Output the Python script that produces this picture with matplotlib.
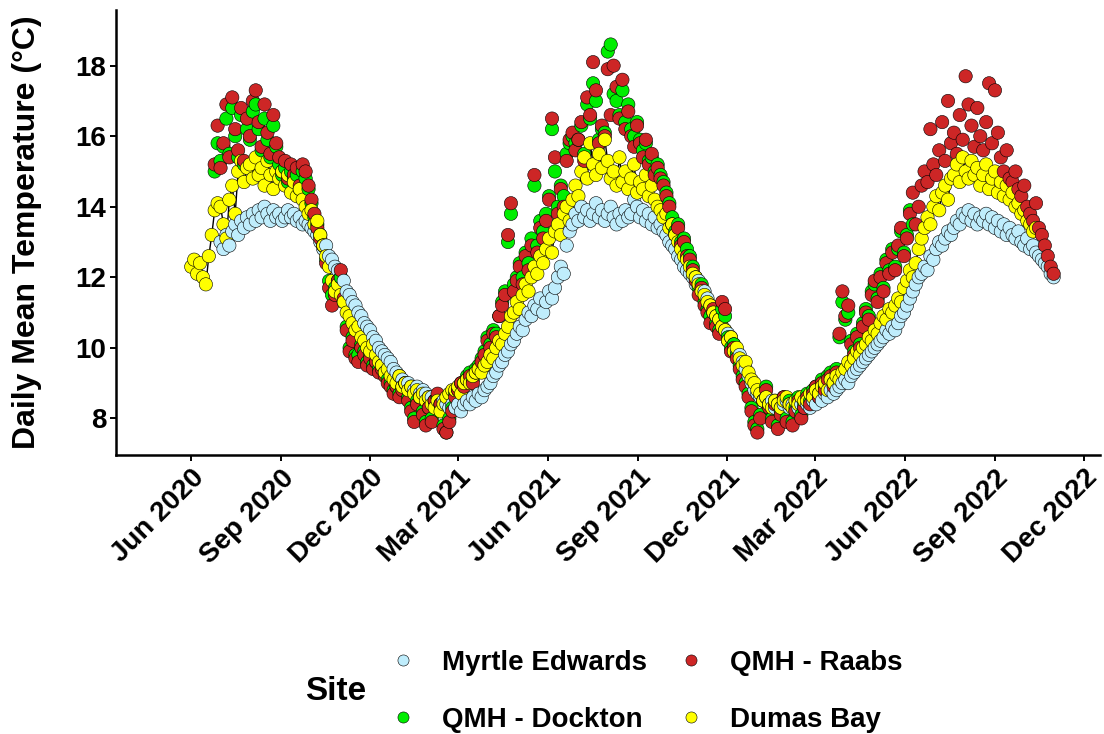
import numpy as np
import pandas as pd
import matplotlib
matplotlib.use("Agg")
import matplotlib.pyplot as plt
import matplotlib.dates as mdates
from matplotlib.lines import Line2D

plt.rcParams["font.family"] = ["Liberation Sans", "DejaVu Sans"]
plt.rcParams["font.weight"] = "bold"

nan = np.nan
START = "2020-06-01"  # sampling grid: one value every 3 days, 10 values per row

myrtle_edwards = [
    nan, nan, nan, nan, nan, nan, nan, nan, nan, nan,
    13.0, 12.8, 13.2, 12.9, 13.3, 13.5, 13.2, 13.6, 13.4, 13.7,
    13.5, 13.8, 13.6, 13.9, 13.7, 14.0, 13.8, 13.6, 13.9, 13.7,
    13.8, 13.6, 13.7, 13.9, 13.7, 13.8, 13.6, 13.7, 13.5, 13.6,
    13.5, 13.4, 13.3, 13.2, 13.0, 12.8, 12.9, 12.6, 12.5, 12.3,
    12.2, 12.0, 11.9, 11.6, 11.5, 11.3, 11.2, 11.0, 10.9, 10.7,
    10.6, 10.5, 10.3, 10.2, 10.0, 9.9, 9.8, 9.7, 9.6, 9.4,
    9.3, 9.2, 9.1, 9.0, 9.0, 8.9, 8.8, 8.9, 8.7, 8.8,
    8.7, 8.6, 8.6, 8.5, 8.6, 8.4, 8.5, 8.4, 8.3, 8.4,
    8.3, 8.4, 8.2, 8.4, 8.5, 8.4, 8.6, 8.5, 8.7, 8.6,
    8.8, 8.9, 9.0, 9.2, 9.3, 9.5, 9.6, 9.8, 9.9, 10.1,
    10.2, 10.4, 10.6, 10.5, 10.8, 11.0, 10.9, 11.2, 11.1, 11.4,
    11.0, 11.3, 11.6, 11.4, 11.7, 12.0, 12.3, 12.1, 12.9, 13.3,
    13.5, 13.8, 13.6, 14.0, 13.7, 13.9, 13.6, 13.8, 14.1, 13.7,
    13.9, 13.6, 13.8, 14.0, 13.7, 13.5, 13.8, 13.6, 13.9, 13.7,
    13.8, 14.2, 14.0, 13.7, 13.9, 13.6, 13.8, 13.5, 13.7, 13.4,
    13.5, 13.3, 13.2, 13.0, 12.9, 12.8, 12.6, 12.5, 12.3, 12.2,
    12.1, 12.0, 11.8, 11.9, 11.7, 11.6, 11.4, 11.2, 11.0, 10.9,
    10.8, 10.6, 10.5, 10.4, 10.3, 10.1, 9.9, 9.8, 9.6, 9.4,
    9.2, 9.0, 8.8, 8.7, 8.6, 8.5, 8.6, 8.4, 8.5, 8.3,
    8.4, 8.3, 8.4, 8.5, 8.3, 8.4, 8.2, 8.3, 8.4, 8.3,
    8.4, 8.3, 8.5, 8.4, 8.6, 8.5, 8.7, 8.6, 8.8, 8.7,
    8.8, 8.9, 9.0, 9.1, 9.0, 9.2, 9.3, 9.4, 9.5, 9.6,
    9.7, 9.8, 9.9, 10.0, 10.1, 10.2, 10.3, 10.5, 10.4, 10.6,
    10.5, 10.7, 10.9, 11.0, 11.2, 11.4, 11.6, 11.8, 12.0, 12.1,
    12.3, 12.2, 12.6, 12.5, 12.8, 13.0, 12.9, 13.1, 13.3, 13.2,
    13.4, 13.6, 13.5, 13.8, 13.7, 13.9, 13.6, 13.8, 13.5, 13.7,
    13.6, 13.8, 13.5, 13.7, 13.4, 13.6, 13.3, 13.5, 13.2, 13.4,
    13.2, 13.1, 13.3, 13.0, 12.9, 13.1, 12.8, 12.9, 12.7, 12.6,
    12.5, 12.4, 12.3, 12.1, 12.0,
]

qmh_dockton = [
    nan, nan, nan, nan, nan, nan, nan, nan, 15.0, 15.8,
    15.3, 15.7, 16.5, 15.5, 16.8, 16.0, 15.4, 16.6, 15.2, 16.2,
    15.9, 16.7, 16.9, 16.2, 15.6, 16.5, 15.9, 15.4, 16.3, 15.7,
    15.2, 14.9, 15.1, 14.7, 15.0, 14.8, 14.9, 14.5, 15.0, 14.8,
    14.5, 14.1, 13.7, 13.5, 13.2, 12.9, 12.5, 11.9, 11.5, 11.7,
    11.9, 12.0, 11.3, 10.6, 10.0, 10.3, 9.8, 9.8, 10.1, 9.9,
    9.6, 9.8, 9.5, 9.6, 9.4, 9.5, 9.3, 9.1, 9.0, 8.8,
    8.9, 8.7, 8.9, 9.0, 8.6, 8.3, 8.0, 8.5, 8.6, 8.2,
    7.9, 8.3, 8.0, 8.5, 8.6, 8.4, 7.8, 7.6, 8.0, 8.3,
    8.7, 8.8, 9.0, 9.0, 9.2, 9.3, 9.1, 9.4, 9.5, 9.7,
    9.9, 10.3, 10.1, 10.5, 10.4, 10.9, 11.3, 11.6, 13.0, 13.8,
    11.8, 12.0, 12.4, 12.0, 12.7, 12.4, 13.1, 14.6, 12.9, 13.6,
    13.3, 13.8, 14.3, 16.2, 15.0, 14.0, 14.6, 14.3, 15.5, 15.8,
    16.0, 15.8, 15.9, 16.3, 15.5, 16.9, 16.5, 17.5, 17.0, 15.9,
    16.2, 16.1, 18.4, 18.6, 17.2, 17.0, 16.6, 17.3, 16.4, 16.9,
    16.2, 16.0, 16.4, 15.9, 15.6, 15.8, 15.3, 15.4, 15.0, 15.2,
    14.9, 14.7, 14.4, 14.1, 13.7, 13.3, 13.5, 13.0, 13.1, 12.8,
    12.6, 12.3, 12.0, 11.7, 11.8, 11.3, 11.1, 10.9, 11.0, 10.7,
    10.5, 11.1, 10.9, 10.3, 10.0, 10.1, 9.8, 9.5, 9.2, 9.0,
    8.7, 8.3, 7.9, 7.7, 8.1, 8.5, 8.9, 8.4, 8.0, 8.5,
    7.8, 8.2, 8.6, 8.0, 8.5, 7.9, 8.3, 8.6, 8.1, 8.4,
    8.7, 8.5, 8.8, 8.9, 8.7, 9.1, 8.9, 9.2, 9.3, 9.0,
    9.4, 10.3, 11.3, 10.8, 11.0, 10.2, 9.9, 10.4, 10.1, 10.7,
    11.1, 10.9, 11.6, 11.8, 11.4, 12.1, 11.7, 12.5, 12.2, 12.8,
    12.3, 12.8, 13.3, 12.7, 13.2, 13.9, 13.5,
]

qmh_raabs = [
    nan, nan, nan, nan, nan, nan, nan, nan, 15.2, 16.3,
    15.1, 15.8, 16.9, 15.4, 17.1, 16.2, 15.6, 16.8, 15.3, 16.5,
    16.0, 17.0, 17.3, 16.4, 15.7, 16.9, 16.1, 15.5, 16.6, 15.8,
    15.4, 15.0, 15.3, 14.8, 15.2, 14.9, 15.1, 14.6, 15.2, 15.0,
    14.6, 14.2, 13.8, 13.4, 13.1, 12.9, 12.4, 11.7, 11.2, 11.5,
    11.9, 12.2, 11.4, 10.5, 9.9, 10.2, 9.7, 9.6, 10.0, 9.8,
    9.5, 9.7, 9.4, 9.6, 9.3, 9.4, 9.2, 9.0, 8.9, 8.7,
    8.9, 8.6, 8.8, 9.0, 8.5, 8.2, 7.9, 8.4, 8.6, 8.1,
    7.8, 8.3, 7.9, 8.5, 8.7, 8.4, 7.7, 7.6, 7.9, 8.2,
    8.6, 8.8, 9.0, 8.9, 9.1, 9.2, 9.0, 9.3, 9.4, 9.6,
    9.8, 10.2, 10.0, 10.4, 10.3, 10.9, 11.2, 11.5, 13.2, 14.1,
    11.6, 11.9, 12.3, 11.8, 12.6, 12.2, 12.9, 14.9, 12.7, 13.4,
    13.1, 13.6, 14.2, 16.5, 15.4, 13.8, 14.5, 14.0, 15.3, 15.9,
    16.1, 15.6, 15.9, 16.4, 15.3, 17.1, 16.6, 18.1, 17.3, 15.8,
    16.3, 16.0, 17.9, 16.6, 18.0, 17.4, 16.5, 17.6, 16.2, 16.7,
    16.0, 15.7, 16.3, 15.8, 15.4, 15.9, 15.2, 15.5, 14.9, 15.1,
    14.8, 14.6, 14.3, 14.0, 13.5, 13.2, 13.4, 12.9, 13.0, 12.6,
    12.5, 12.2, 11.9, 11.5, 11.7, 11.2, 11.0, 10.7, 11.1, 10.6,
    10.4, 11.3, 11.1, 10.2, 9.9, 10.0, 9.7, 9.4, 9.1, 8.9,
    8.6, 8.2, 7.8, 7.6, 8.0, 8.5, 8.8, 8.3, 7.9, 8.4,
    7.7, 8.1, 8.6, 7.9, 8.4, 7.8, 8.2, 8.5, 8.0, 8.3,
    8.6, 8.4, 8.7, 8.9, 8.6, 9.0, 8.8, 9.1, 9.2, 8.9,
    9.3, 10.4, 11.6, 10.9, 11.2, 10.1, 9.8, 10.3, 10.0, 10.6,
    11.0, 10.8, 11.5, 11.9, 11.3, 12.0, 11.6, 12.4, 12.1, 12.7,
    12.2, 12.9, 13.4, 12.6, 13.1, 13.8, 14.4, 13.5, 14.0, 14.6,
    15.0, 14.7, 16.2, 15.2, 14.9, 15.6, 16.4, 15.3, 17.0, 15.8,
    16.1, 15.5, 16.6, 15.9, 17.7, 16.9, 16.3, 15.7, 16.8, 16.0,
    15.6, 16.4, 17.5, 15.8, 17.3, 16.1, 15.4, 15.0, 15.6, 14.8,
    14.7, 15.0, 14.5, 14.3, 14.6, 14.0, 13.8, 13.6, 14.1, 13.4,
    13.2, 12.9, 12.6, 12.3, 12.1,
]

dumas_bay = [
    12.3, 12.5, 12.1, 12.4, 12.0, 11.8, 12.6, 13.2, 13.9, 14.1,
    14.0, 13.5, 13.1, 14.2, 14.6, 13.8, 15.0, 15.3, 14.7, 15.1,
    15.2, 14.8, 15.4, 14.9, 15.1, 14.6, 15.3, 14.9, 14.5, 15.0,
    14.8, 15.0, 14.6, 14.9, 14.4, 14.7, 14.3, 14.5, 14.2, 14.0,
    13.8, 13.9, 13.5, 13.6, 13.2, 12.9, 12.6, 12.3, 11.9, 11.6,
    11.8, 11.5, 11.3, 11.0, 10.9, 10.7, 10.5, 10.6, 10.3, 10.2,
    10.0, 9.9, 10.1, 9.8, 9.6, 9.5, 9.3, 9.4, 9.2, 9.1,
    9.0, 9.2, 8.9, 9.0, 8.8, 8.9, 8.7, 8.8, 8.6, 8.7,
    8.5, 8.6, 8.4, 8.3, 8.5, 8.2, 8.4, 8.6, 8.7, 8.8,
    8.8, 8.9, 8.7, 9.0, 9.1, 9.0, 9.2, 9.3, 9.4, 9.3,
    9.5, 9.6, 9.8, 9.7, 10.0, 10.2, 10.1, 10.4, 10.6, 10.9,
    11.0, 11.3, 11.1, 11.5, 11.8, 11.6, 12.0, 12.3, 12.1, 12.6,
    12.4, 12.8, 13.1, 12.7, 13.3, 13.5, 13.2, 13.8, 14.0, 13.6,
    14.2, 14.6, 14.3, 15.0, 15.4, 14.8, 15.8, 15.2, 14.9, 15.5,
    15.1, 15.9, 15.3, 14.8, 15.0, 14.6, 15.4, 14.7, 15.0, 14.5,
    14.8, 15.2, 14.4, 14.7, 14.5, 14.9, 14.3, 14.6, 14.2, 14.0,
    13.9, 13.7, 13.8, 13.4, 13.5, 13.2, 13.0, 12.8, 12.6, 12.5,
    12.3, 12.1, 12.0, 11.8, 11.6, 11.5, 11.3, 11.2, 11.0, 10.9,
    10.8, 10.6, 10.5, 10.2, 10.3, 9.9, 10.0, 9.7, 9.5, 9.6,
    9.3, 9.1, 9.0, 8.8, 8.7, 8.5, 8.6, 8.4, 8.3, 8.5,
    8.4, 8.3, 8.5, 8.6, 8.4, 8.3, 8.5, 8.4, 8.6, 8.5,
    8.5, 8.7, 8.6, 8.8, 8.7, 8.9, 9.0, 8.8, 9.1, 9.0,
    9.2, 9.1, 9.3, 9.4, 9.6, 9.5, 9.7, 9.9, 9.8, 10.0,
    10.1, 10.3, 10.2, 10.5, 10.4, 10.7, 10.9, 10.8, 11.1, 11.0,
    11.2, 11.4, 11.3, 11.7, 11.9, 12.2, 12.0, 12.4, 12.8, 13.1,
    13.4, 13.7, 13.5, 14.0, 14.3, 13.9, 14.4, 14.6, 14.2, 14.8,
    14.9, 15.2, 14.7, 15.4, 15.0, 14.8, 15.3, 14.9, 15.1, 14.6,
    14.9, 15.2, 14.5, 14.8, 15.0, 14.4, 14.7, 14.3, 14.6, 14.2,
    14.4, 14.0, 14.1, 13.8, 13.9, 13.6, 13.5, 13.3, 13.4,
]

sites = ["Myrtle Edwards", "QMH - Dockton", "QMH - Raabs", "Dumas Bay"]
series = [myrtle_edwards, qmh_dockton, qmh_raabs, dumas_bay]
site_colors = {
    "Myrtle Edwards": "#BFEDFC",
    "QMH - Dockton": "#00EE00",
    "QMH - Raabs": "#CD2626",
    "Dumas Bay": "#FFFF00",
}

frames = []
for name, vals in zip(sites, series):
    d = pd.DataFrame({"date": pd.date_range(START, periods=len(vals), freq="3D"),
                      "temp": vals})
    d["site"] = name
    frames.append(d)
df = pd.concat(frames).dropna().sort_values("date", kind="mergesort")

fig = plt.figure(figsize=(11.04, 7.34), dpi=100)
ax = fig.add_axes([0.105, 0.380, 0.891, 0.606])

dumas = df[df["site"] == "Dumas Bay"]
ax.plot(dumas["date"], dumas["temp"], color="black", lw=1, zorder=1)
ax.scatter(df["date"], df["temp"], s=92, c=df["site"].map(site_colors),
           edgecolors="black", linewidths=0.4, zorder=2)

ax.set_xlim(pd.Timestamp("2020-03-16"), pd.Timestamp("2022-12-17"))
ax.set_ylim(6.96, 19.57)
ax.set_yticks([8, 10, 12, 14, 16, 18])
ax.xaxis.set_major_locator(mdates.MonthLocator(bymonth=[3, 6, 9, 12]))
ax.xaxis.set_major_formatter(mdates.DateFormatter("%b %Y"))

for sp in ["top", "right"]:
    ax.spines[sp].set_visible(False)
for sp in ["left", "bottom"]:
    ax.spines[sp].set_linewidth(1.8)
ax.tick_params(width=1.4, length=4, labelsize=20, pad=3, colors="black")
plt.setp(ax.get_xticklabels(), rotation=45, ha="right", va="top",
         rotation_mode="anchor")

ax.set_ylabel("Daily Mean Temperature (°C)", fontsize=23, fontweight="bold")
ax.yaxis.set_label_coords(-0.0752, 0.5)

handles = [Line2D([], [], ls="", marker="o", markersize=8,
                  markerfacecolor=site_colors[s], markeredgecolor="black",
                  markeredgewidth=0.4) for s in sites]
fig.legend(handles, sites, ncol=2, loc="center left",
           bbox_to_anchor=(0.3524, 0.0579), frameon=False, fontsize=20,
           handlelength=1.0, handletextpad=0.9, columnspacing=1.1,
           labelspacing=1.12, borderpad=0, borderaxespad=0)
fig.text(305 / 1104, 0.0579, "Site", fontsize=24, fontweight="bold",
         ha="left", va="center")

fig.savefig("out.png", dpi=100)
